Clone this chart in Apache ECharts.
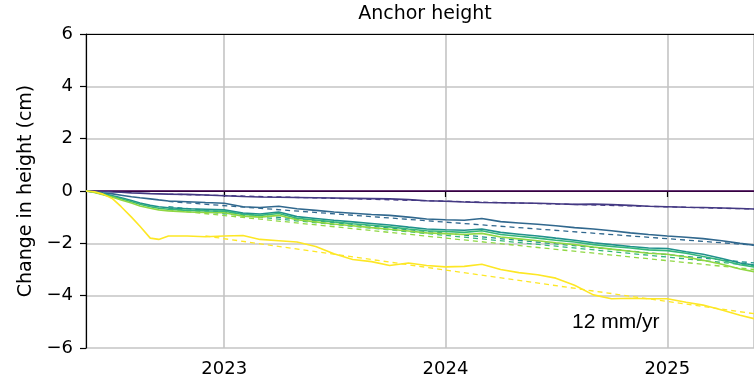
<!DOCTYPE html>
<html>
<head>
<meta charset="utf-8">
<script src="https://cdn.jsdelivr.net/npm/echarts@6/dist/echarts.min.js"></script>
<style>html,body{margin:0;padding:0;background:#fff}#c{width:754px;height:381px}</style>
</head>
<body>
<div id="c"></div>
<script>
const dates = ['2022-05-18','2022-06-01','2022-06-15','2022-07-01','2022-07-15','2022-08-01','2022-08-15','2022-09-01','2022-09-15','2022-10-01','2022-11-01','2022-12-01',
'2023-01-01','2023-02-01','2023-03-01','2023-04-01','2023-05-01','2023-06-01','2023-07-01','2023-08-01','2023-09-01','2023-10-01','2023-11-01','2023-12-01',
'2024-01-01','2024-02-01','2024-03-01','2024-04-01','2024-05-01','2024-06-01','2024-07-01','2024-08-01','2024-09-01','2024-10-01','2024-11-01','2024-12-01',
'2025-01-01','2025-02-01','2025-03-01','2025-04-01','2025-05-01','2025-05-24'];

const s1 = [0,0,0,0,0,0,0,0,0,0,0,0, 0,0,0,0,0,0,0,0,0,0,0,0, 0,0,0,0,0,0,0,0,0,0,0,0, 0,0,0,0,0,0];
const s2 = [0,-0.01,-0.02,-0.04,-0.05,-0.07,-0.08,-0.1,-0.11,-0.12,-0.13,-0.15,
-0.18,-0.21,-0.23,-0.24,-0.25,-0.26,-0.27,-0.28,-0.29,-0.3,-0.33,-0.37,
-0.39,-0.42,-0.44,-0.45,-0.46,-0.47,-0.49,-0.51,-0.5,-0.52,-0.55,-0.58,
-0.6,-0.62,-0.63,-0.65,-0.67,-0.69];
const s3 = [0,-0.03,-0.07,-0.11,-0.16,-0.22,-0.26,-0.3,-0.34,-0.38,-0.41,-0.44,
-0.47,-0.6,-0.63,-0.58,-0.68,-0.74,-0.8,-0.85,-0.9,-0.93,-1.0,-1.07,
-1.1,-1.12,-1.05,-1.17,-1.22,-1.27,-1.33,-1.4,-1.45,-1.52,-1.6,-1.66,
-1.72,-1.77,-1.82,-1.9,-2.0,-2.07];
const s4 = [0,-0.04,-0.1,-0.18,-0.26,-0.36,-0.46,-0.55,-0.6,-0.64,-0.68,-0.7,
-0.72,-0.84,-0.88,-0.8,-0.98,-1.05,-1.12,-1.18,-1.24,-1.3,-1.38,-1.45,
-1.48,-1.5,-1.45,-1.58,-1.65,-1.72,-1.8,-1.88,-1.98,-2.05,-2.12,-2.18,
-2.2,-2.32,-2.42,-2.58,-2.75,-2.83];
const s5 = [0,-0.05,-0.12,-0.21,-0.3,-0.41,-0.51,-0.6,-0.66,-0.7,-0.74,-0.76,
-0.77,-0.9,-0.93,-0.86,-1.04,-1.11,-1.18,-1.25,-1.31,-1.37,-1.45,-1.52,
-1.55,-1.58,-1.52,-1.66,-1.73,-1.8,-1.88,-1.95,-2.05,-2.12,-2.18,-2.25,
-2.28,-2.38,-2.5,-2.65,-2.82,-2.9];
const s6 = [0,-0.06,-0.14,-0.24,-0.34,-0.46,-0.57,-0.66,-0.72,-0.76,-0.8,-0.82,
-0.83,-0.96,-1.0,-0.93,-1.1,-1.18,-1.26,-1.33,-1.4,-1.46,-1.53,-1.6,
-1.63,-1.66,-1.62,-1.76,-1.83,-1.9,-1.98,-2.05,-2.14,-2.22,-2.3,-2.38,
-2.42,-2.52,-2.65,-2.8,-2.98,-3.08];
const s7 = [0,-0.03,-0.12,-0.3,-0.6,-1.0,-1.35,-1.8,-1.85,-1.72,-1.72,-1.75,
-1.72,-1.7,-1.85,-1.9,-1.95,-2.12,-2.4,-2.62,-2.7,-2.85,-2.75,-2.85,
-2.9,-2.88,-2.8,-3.0,-3.12,-3.2,-3.33,-3.6,-3.97,-4.12,-4.1,-4.12,
-4.12,-4.25,-4.36,-4.55,-4.75,-4.88];

// dashed linear fits: start date, start value, end value (end date common)
const fitStart = [null,'2022-10-01','2022-10-01','2022-10-01','2022-10-01','2022-10-01','2022-12-01'];
const fitEnd = '2025-05-24';
const fitFrom = [null,-0.12,-0.4,-0.6,-0.66,-0.72,-1.72];
const fitTo   = [null,-0.69,-2.07,-2.75,-2.85,-3.0,-4.69];

const colors = ['#440154','#443983','#31688e','#21918c','#35b779','#90d743','#fde725'];
const seriesVals = [s1,s2,s3,s4,s5,s6,s7];

const yTicks = [-6,-4,-2,0,2,4,6];
const xTickLabels = ['2023','2024','2025'];
const rateLabel = '12 mm/yr';

const series = [];
seriesVals.forEach((vals,i)=>{
  if (fitStart[i]) {
    series.push({type:'line', symbol:'none', silent:true, z:1,
      data: [[fitStart[i], fitFrom[i]], [fitEnd, fitTo[i]]],
      lineStyle:{color:colors[i], width:1.3, type:[5,4]}});
  }
});
seriesVals.forEach((vals,i)=>{
  series.push({type:'line', symbol:'none', silent:true, z:2,
    data: dates.map((d,j)=>[d, vals[j]]),
    lineStyle:{color:colors[i], width:1.6}});
});

const chart = echarts.init(document.getElementById('c'), null, {renderer:'canvas'});
const YEAR = 365*24*3600*1000;
const F = 'DejaVu Sans';
chart.setOption({
  animation:false,
  backgroundColor:'#fff',
  grid:{left:86, top:34, bottom:33, right:0},
  graphic:[
    {type:'text', x:425, y:5, style:{text:'Anchor height', fontFamily:F, fontSize:19, fill:'#000', textAlign:'center'}},
    {type:'text', x:572, y:312, style:{text:rateLabel, fontFamily:'Liberation Sans', fontSize:21, fill:'#000'}}
  ],
  xAxis:[{type:'time', min:'2022-05-18', max:'2025-05-24',
    minInterval:YEAR, maxInterval:YEAR*1.01,
    axisLine:{show:true, lineStyle:{color:'#000', width:1.2}},
    axisTick:{show:true, length:6, lineStyle:{color:'#000', width:1.2}},
    axisLabel:{color:'#000', fontFamily:F, fontSize:18, margin:12,
      showMinLabel:false, showMaxLabel:false,
      formatter:function(v){ const y = new Date(v).getFullYear().toString(); return xTickLabels.includes(y)? y : ''; }},
    splitLine:{show:true, lineStyle:{color:'#c4c4c4', width:1.6}}
  },{type:'time', position:'top', min:'2022-05-18', max:'2025-05-24',
    axisLine:{show:true, lineStyle:{color:'#000', width:1.2}},
    axisTick:{show:false}, axisLabel:{show:false}, splitLine:{show:false}
  }],
  yAxis:{type:'value', min:yTicks[0], max:yTicks[yTicks.length-1], interval:2,
    name:'Change in height (cm)', nameLocation:'middle', nameGap:50,
    nameTextStyle:{color:'#000', fontFamily:F, fontSize:19},
    axisLine:{show:true, lineStyle:{color:'#000', width:1.2}},
    axisTick:{show:true, length:6, lineStyle:{color:'#000', width:1.2}},
    axisLabel:{color:'#000', fontFamily:F, fontSize:18, margin:13,
      formatter:function(v){ return v<0 ? '\u2212'+Math.abs(v) : String(v); }},
    splitLine:{show:true, lineStyle:{color:'#c4c4c4', width:1.6}}
  },
  series:series
});
</script>
</body>
</html>
